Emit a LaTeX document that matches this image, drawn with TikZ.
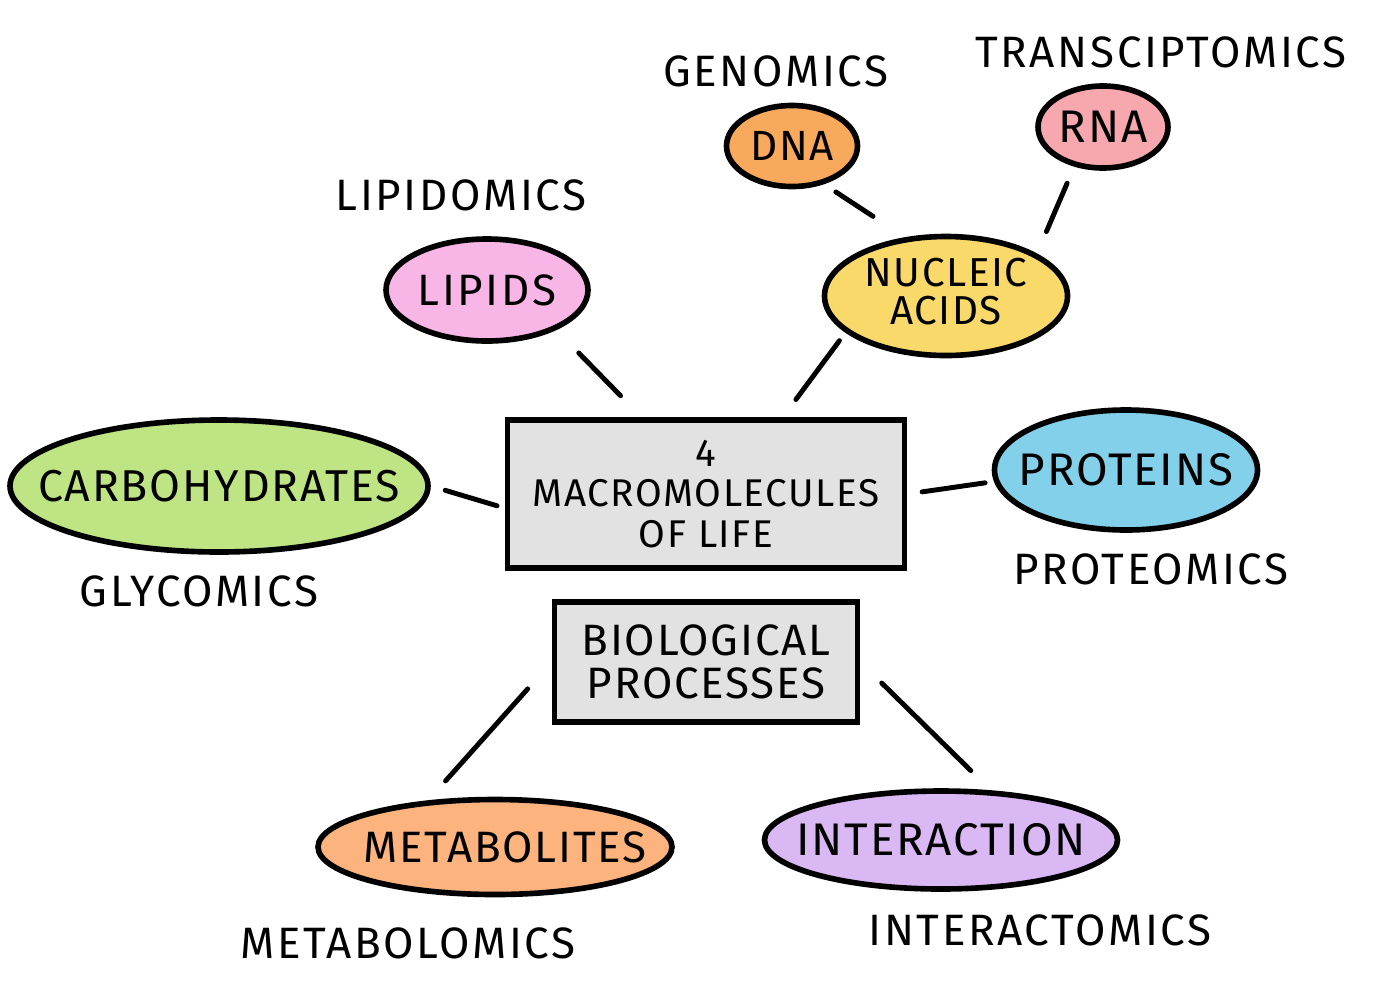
\documentclass[tikz,border=0pt]{standalone}
\usepackage{fontspec}
\setmainfont{Fira Sans}
\newfontfamily\handfont[LetterSpace=4]{Fira Sans}
\newfontfamily\tagfont[LetterSpace=6]{Fira Sans}
\usetikzlibrary{positioning, shapes.geometric}
\definecolor{carbgreen}{HTML}{BFE483}
\definecolor{lipidpink}{HTML}{F8B6E7}
\definecolor{nucyellow}{HTML}{FAD96B}
\definecolor{dnaorange}{HTML}{F8A95C}
\definecolor{rnapink}{HTML}{F7A8AE}
\definecolor{protblue}{HTML}{82D0E9}
\definecolor{metorange}{HTML}{FCB37E}
\definecolor{intpurple}{HTML}{DAB8F3}
\definecolor{boxgray}{HTML}{E2E2E2}
\newcommand{\molname}[1]{\makebox[0pt]{#1}}

\begin{document}
\begin{tikzpicture}[
  blob/.style={ellipse, draw, line width=1.6pt, inner sep=0pt},
  box/.style={draw, line width=1.6pt, fill=boxgray, align=center, inner sep=0pt},
  tag/.style={inner sep=0pt, font=\tagfont\fontsize{12.5}{14}\selectfont},
  link/.style={line width=1.4pt, line cap=round},
]
\useasboundingbox (0,0) rectangle (14,-9.87);

% ===================== centre boxes =====================
\node[box, minimum width=3.97cm, minimum height=1.48cm,
      font=\handfont\fontsize{11}{11.6}\selectfont] (mac) at (7.06,-4.94)
      {4\\MACROMOLECULES\\OF LIFE};
\node[box, minimum width=3.03cm, minimum height=1.20cm,
      font=\handfont\fontsize{12.5}{12.2}\selectfont] (bio) at (7.06,-6.62)
      {BIOLOGICAL\\PROCESSES};

% ===================== molecules =====================
\node[blob, fill=carbgreen, minimum width=4.18cm, minimum height=1.32cm,
      font=\handfont\fontsize{12.7}{15}\selectfont] (carb) at (2.19,-4.86)
      {\molname{CARBOHYDRATES}};
\node[blob, fill=lipidpink, minimum width=2.02cm, minimum height=1.02cm,
      font=\tagfont\fontsize{12.5}{14}\selectfont] (lip) at (4.87,-2.90)
      {\molname{LIPIDS}};
\node[blob, fill=nucyellow, minimum width=2.43cm, minimum height=1.19cm,
      font=\handfont\fontsize{11.5}{9}\selectfont] (nuc) at (9.46,-2.96)
      {\molname{\begin{tabular}{@{}c@{}}NUCLEIC\\ACIDS\end{tabular}}};
\node[blob, fill=dnaorange, minimum width=1.31cm, minimum height=0.81cm,
      font=\handfont\fontsize{12}{14}\selectfont] (dna) at (7.92,-1.46)
      {\molname{DNA}};
\node[blob, fill=rnapink, minimum width=1.30cm, minimum height=0.82cm,
      font=\handfont\fontsize{13}{14}\selectfont] (rna) at (11.03,-1.27)
      {\molname{RNA}};
\node[blob, fill=protblue, minimum width=2.63cm, minimum height=1.20cm,
      font=\handfont\fontsize{13}{14}\selectfont] (prot) at (11.26,-4.70)
      {\molname{PROTEINS}};
\node[blob, fill=metorange, minimum width=3.54cm, minimum height=0.95cm,
      font=\handfont\fontsize{12.5}{14}\selectfont] (met) at (4.95,-8.47)
      {\molname{\hspace{2mm}METABOLITES}};
\node[blob, fill=intpurple, minimum width=3.53cm, minimum height=0.98cm,
      font=\handfont\fontsize{13}{14}\selectfont] (int) at (9.41,-8.40)
      {\molname{INTERACTION}};

% ===================== omics labels =====================
\node[tag, above=2.4mm of lip, xshift=-2.6mm]  (lipomics) {LIPIDOMICS};
\node[tag, above=1.5mm of dna, xshift=-1.6mm]  (genomics) {GENOMICS};
\node[tag, above=1.4mm of rna, xshift=5.8mm]   (transomics) {TRANSCIPTOMICS};
\node[tag, below=2mm of carb, xshift=-2mm]     (glyomics) {GLYCOMICS};
\node[tag, below=2mm of prot, xshift=2.5mm]    (protomics) {PROTEOMICS};
\node[tag, below=3mm of met, xshift=-8.7mm]    (metomics) {METABOLOMICS};
\node[tag, below=2.2mm of int, xshift=9.9mm]   (intomics) {INTERACTOMICS};

% ===================== links =====================
\draw[link, shorten <=3.2mm, shorten >=3mm] (lip.-30) -- (mac.130);
\draw[link, shorten <=1mm, shorten >=2.2mm] (nuc.200) -- (mac.45);
\draw[link, shorten <=1.4mm, shorten >=3.8mm] (dna.-50) -- (nuc.125);
\draw[link, shorten <=1.8mm, shorten >=2.4mm] (rna.-126) -- (nuc.25);
\draw[link, shorten <=1.5mm, shorten >=0.8mm] (carb.east) -- (mac.184);
\draw[link, shorten <=1.5mm, shorten >=0.9mm] (mac.east) -- (prot.185);
\draw[link, shorten <=3.6mm, shorten >=2.6mm] (bio.west) -- (met.145);
\draw[link, shorten <=3mm, shorten >=2.8mm] (bio.east) -- (int.45);
\end{tikzpicture}
\end{document}
